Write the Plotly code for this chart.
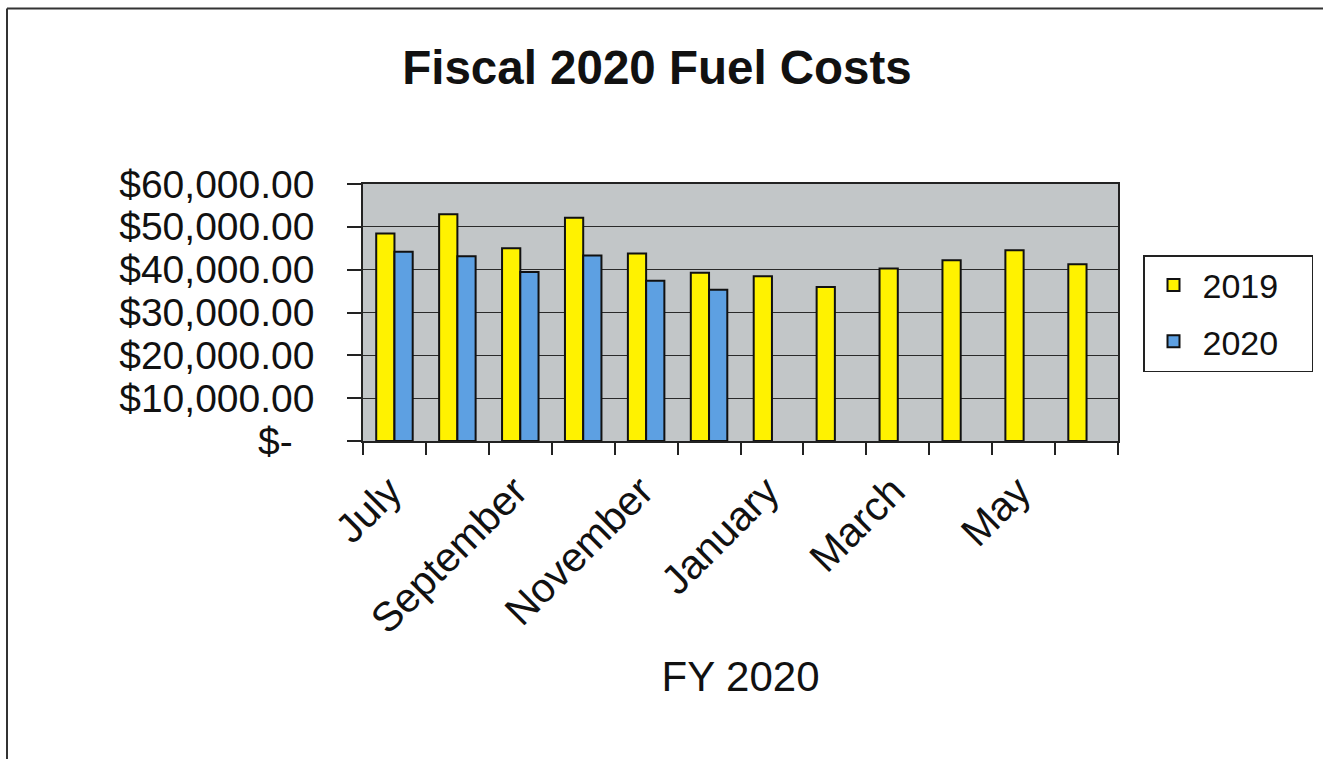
import plotly.graph_objects as go

months = ["July", "August", "September", "October", "November", "December",
          "January", "February", "March", "April", "May", "June"]
tick_labels = ["July", "", "September", "", "November", "", "January", "", "March", "", "May", ""]
costs_2019 = [48450, 52950, 45000, 52100, 43750, 39300, 38450, 35950, 40250, 42200, 44550, 41250]
costs_2020 = [44200, 43150, 39450, 43300, 37400, 35300, None, None, None, None, None, None]
y_ticks = [0, 10000, 20000, 30000, 40000, 50000, 60000]
y_tick_text = ["$-\u00a0\u00a0", "$10,000.00", "$20,000.00", "$30,000.00",
               "$40,000.00", "$50,000.00", "$60,000.00"]
legend_names = ["2019", "2020"]

FONT = "Liberation Sans, Arial, sans-serif"
PAD = "\u00a0\u00a0\u00a0"

fig = go.Figure()
fig.add_trace(go.Bar(name=legend_names[0] + PAD, x=months, y=costs_2019, legendgroup="a",
                     marker=dict(color="#fff200", line=dict(color="#111111", width=2))))
fig.add_trace(go.Bar(name=legend_names[1] + PAD, x=months, y=costs_2020, legendgroup="b",
                     marker=dict(color="#5da0e2", line=dict(color="#111111", width=2))))

L, R, T, B = 363, 1323 - 1118, 184, 759 - 441
W, H = 1323, 759
pw, ph = W - L - R, H - T - B

def px(x):
    return (x - L) / pw

def py(y):
    return 1 - (y - T) / ph

fig.update_layout(
    width=W, height=H,
    margin=dict(l=L, r=R, t=T, b=B, autoexpand=False),
    paper_bgcolor="white",
    plot_bgcolor="#c2c6c8",
    barmode="group",
    bargap=0.42,
    bargroupgap=0,
    font=dict(family=FONT, color="#111111"),
    title=dict(text="<b>Fiscal 2020 Fuel Costs</b>", x=657 / W, xanchor="center",
               xref="container", y=1 - 67 / H, yanchor="middle",
               font=dict(size=47.5, family=FONT, color="#111111")),
    legend=dict(x=px(1143), y=py(255), xanchor="left", yanchor="top",
                bgcolor="white", bordercolor="#222222", borderwidth=1.5,
                font=dict(size=34, family=FONT, color="#111111"),
                tracegroupgap=9, itemwidth=48),
    xaxis=dict(
        tickmode="array", tickvals=months, ticktext=tick_labels,
        tickangle=-45, tickson="boundaries", ticks="outside", ticklen=12,
        tickwidth=1.5, tickcolor="#222222",
        ticklabelstandoff=8, ticklabelshift=-5,
        tickfont=dict(size=41, family=FONT, color="#111111"),
        showline=True, linecolor="#222222", linewidth=1.5, mirror=True,
        title=dict(text="FY 2020", standoff=20,
                   font=dict(size=42, family=FONT, color="#111111")),
    ),
    yaxis=dict(
        range=[0, 60000], tickmode="array", tickvals=y_ticks, ticktext=y_tick_text,
        ticks="outside", ticklen=14, tickwidth=1.5, tickcolor="#222222",
        ticklabelstandoff=25,
        tickfont=dict(size=39, family=FONT, color="#111111"),
        showgrid=True, gridcolor="#2a2a2a", gridwidth=1.2,
        showline=True, linecolor="#222222", linewidth=1.5, mirror=True,
        zeroline=False,
    ),
    shapes=[
        dict(type="line", xref="paper", yref="paper", x0=px(7), x1=px(1323),
             y0=py(8.5), y1=py(8.5), line=dict(color="#333333", width=2)),
        dict(type="line", xref="paper", yref="paper", x0=px(7), x1=px(7),
             y0=py(8.5), y1=py(759), line=dict(color="#333333", width=2)),
    ],
)

fig.write_html("out.html", config={"displayModeBar": False},
               post_script="document.body.style.margin='0';")
